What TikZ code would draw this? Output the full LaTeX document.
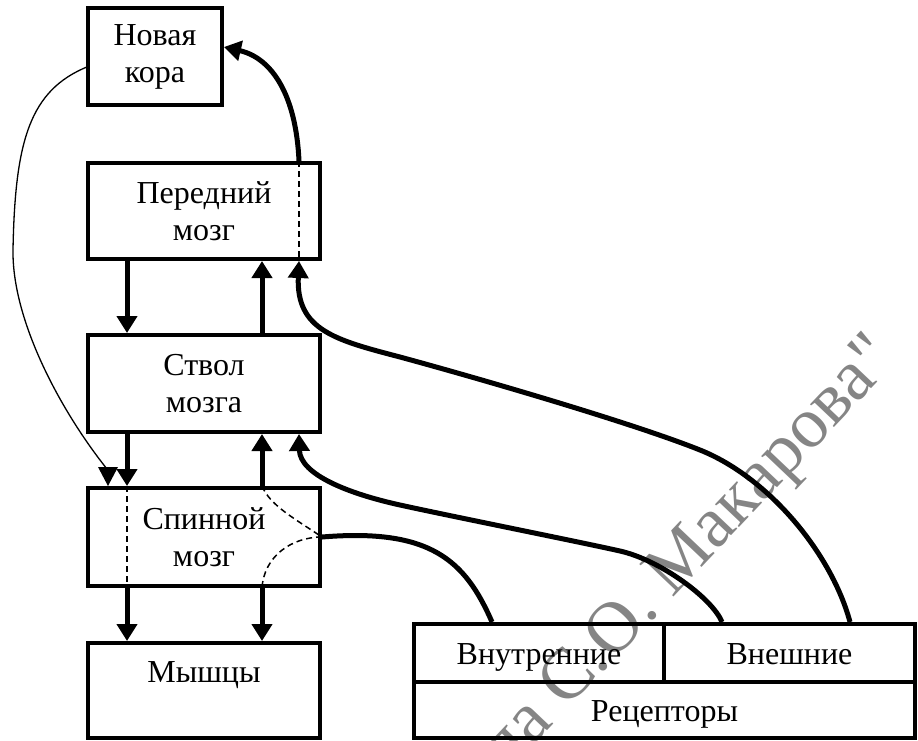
\documentclass[tikz,border=0pt]{standalone}
\usepackage{fontspec}
\setmainfont{Liberation Serif}
\newfontfamily\wmfont{Liberation Serif}
\usetikzlibrary{arrows.meta,calc}
\begin{document}
\begin{tikzpicture}[x=1pt,y=-1pt,
  blk/.style={draw, line width=4pt, inner sep=0pt, align=center,
    font=\fontsize{32}{37}\selectfont},
  cell/.style={blk, text height=22pt, text depth=0pt},
  arr/.style={line width=5pt, -{Triangle[width=20pt,length=17pt]}},
  thickline/.style={line width=5pt},
  dsh/.style={line width=1.5pt, dash pattern=on 6pt off 4pt},
  thinline/.style={line width=1.3pt},
  wmark/.style={text=black!48, font=\wmfont\fontsize{72}{76}\selectfont, inner sep=0pt}
]
\useasboundingbox (0,0) rectangle (918,740);
% watermark
\begin{scope}
\clip (0,0) rectangle (918,740);
\node[wmark, rotate=46.5, anchor=base east] (wm) at (899,360) {адмирала С.О. Макарова"};
\end{scope}
% boxes
\node[blk, minimum width=134pt, minimum height=97pt] (kora) at (155,56.5) {Новая\\кора};
\node[blk, minimum width=232pt, minimum height=96pt] (pered) at (204,211) {Передний\\мозг};
\node[blk, minimum width=232pt, minimum height=97pt] (stvol) at (204,383.5) {Ствол\\мозга};
\node[blk, minimum width=232pt, minimum height=98pt] (spin) at (204,537) {Спинной\\мозг};
\node[blk, minimum width=232pt, minimum height=95pt] (mysh) at (204,690.5) {Мышцы\\\mbox{}};
\node[cell, minimum width=250pt, minimum height=58pt] (vin) at (539,653) {Внутренние};
\node[cell, minimum width=251pt, minimum height=58pt] (vne) at (789.5,653) {Внешние};
\node[cell, minimum width=501pt, minimum height=56pt] (rec) at (664.5,710) {Рецепторы};
% reference x positions
\coordinate (xa) at (127,0);
\coordinate (xb) at (262,0);
\coordinate (xc) at (299,0);
\coordinate (xd) at (108,0);
\coordinate (xe) at (492,0);
\coordinate (xf) at (722,0);
\coordinate (xg) at (850,0);
\coordinate (ky) at (0,47);
% vertical arrows
\draw[arr] (pered.south -| xa) -- (stvol.north -| xa);
\draw[arr] (stvol.north -| xb) -- (pered.south -| xb);
\draw[arr] (stvol.south -| xa) -- (spin.north -| xa);
\draw[arr] (spin.north -| xb) -- (stvol.south -| xb);
\draw[arr] (spin.south -| xa) -- (mysh.north -| xa);
\draw[arr] (spin.south -| xb) -- (mysh.north -| xb);
% dashed pass-throughs
\draw[dsh] (spin.north -| xa) -- (spin.south -| xa);
\draw[dsh] (pered.north -| xc) -- (pered.south -| xc);
\draw[dsh] (spin.north -| xb) .. controls (270,505) and (292,517) .. (spin.east);
\draw[dsh] (spin.east) .. controls (292,537) and (264,556) .. (spin.south -| xb);
% receptor curves
\draw[thickline] (vin.north -| xe) .. controls (465,560) and (430,528) .. (spin.east);
\draw[arr] (vne.north -| xf) .. controls (712,598) and (660,560) .. (620,551)
  .. controls (580,542) and (450,516) .. (400,505)
  .. controls (350,494) and (300,475) .. (stvol.south -| xc);
\draw[arr] (vne.north -| xg) .. controls (832,555) and (770,478) .. (700,450)
  .. controls (630,422) and (470,376) .. (400,357)
  .. controls (335,340) and (296,330) .. (pered.south -| xc);
% to neocortex
\draw[arr] (pered.north -| xc) .. controls (296,95) and (272,58) .. (kora.east |- ky);
% thin curve from neocortex to spinal cord
\draw[thinline] ($(kora.west)+(2,10)$) .. controls (30,90) and (15,140) .. (13,250)
  .. controls (12,320) and (60,410) .. (107,469);
\fill (spin.north -| xd) -- ++(-10,-19) -- ++(20,0) -- cycle;
\end{tikzpicture}
\end{document}
